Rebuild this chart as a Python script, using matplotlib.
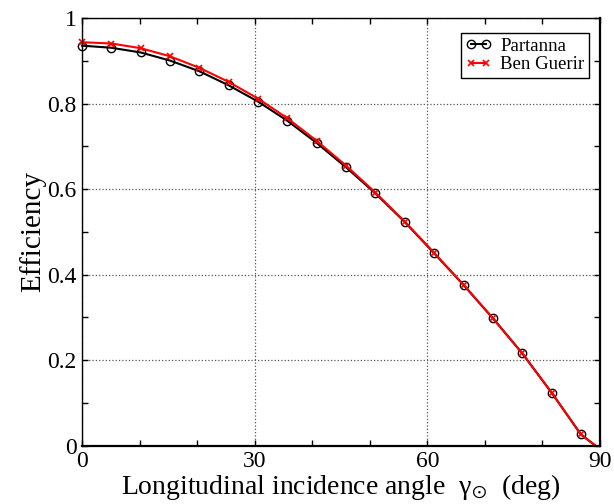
import matplotlib
matplotlib.use("Agg")
import matplotlib.pyplot as plt
from matplotlib.ticker import MultipleLocator, FixedFormatter, FixedLocator

# Data (angle in deg, efficiency)
angles = [0, 5.1, 10.2, 15.3, 20.4, 25.5, 30.6, 35.7, 40.8, 45.9,
          51.0, 56.1, 61.2, 66.3, 71.4, 76.5, 81.6, 86.7, 89.2]
partanna = [0.936, 0.931, 0.920, 0.901, 0.876, 0.843, 0.805, 0.760, 0.708, 0.651,
            0.590, 0.523, 0.450, 0.376, 0.298, 0.216, 0.124, 0.026, 0.0]
ben_guerir = [0.944, 0.941, 0.930, 0.911, 0.884, 0.851, 0.812, 0.766, 0.713, 0.655,
              0.592, 0.524, 0.451, 0.376, 0.298, 0.216, 0.124, 0.026, 0.0]

x_ticks = [0, 30, 60, 90]
x_labels = ["0", "30", "60", "90"]
y_ticks = [0, 0.2, 0.4, 0.6, 0.8, 1.0]
y_labels = ["0", "0.2", "0.4", "0.6", "0.8", "1"]

plt.rcParams["font.family"] = ["Liberation Serif", "DejaVu Serif"]
plt.rcParams["mathtext.fontset"] = "stix"

fig = plt.figure(figsize=(6.14, 5.04), dpi=100)
ax = fig.add_axes([0.1336, 0.116, 0.977 - 0.1336, 0.9637 - 0.116])

n_mark = len(angles) - 1
ax.plot(angles, partanna, color="black", lw=1.5, marker="o", markersize=6,
        markerfacecolor="none", markeredgewidth=1.0, markevery=slice(0, n_mark),
        label="Partanna", clip_on=False)
ax.plot(angles, ben_guerir, color="red", lw=1.5, marker="x", markersize=5,
        markeredgewidth=1.2, markevery=slice(0, n_mark), label="Ben Guerir",
        clip_on=False)

ax.set_xlim(0, 90)
ax.set_ylim(0, 1)
ax.xaxis.set_major_locator(FixedLocator(x_ticks))
ax.xaxis.set_major_formatter(FixedFormatter(x_labels))
ax.yaxis.set_major_locator(FixedLocator(y_ticks))
ax.yaxis.set_major_formatter(FixedFormatter(y_labels))
ax.xaxis.set_minor_locator(MultipleLocator(10))
ax.yaxis.set_minor_locator(MultipleLocator(0.1))
ax.tick_params(which="both", direction="in", top=True, right=True,
               length=4.5, width=1.0, labelsize=17)
ax.tick_params(axis="x", pad=4)
ax.tick_params(axis="y", pad=4)

ax.grid(True, which="major", linestyle=":", color="#555555", lw=0.9)

for side in ["left", "top"]:
    ax.spines[side].set_linewidth(1.0)
for side in ["right", "bottom"]:
    ax.spines[side].set_linewidth(1.6)

ax.set_xlabel("Longitudinal incidence angle  γ$_{\\odot}$  (deg)", fontsize=20, labelpad=0)
ax.set_ylabel("Efficiency", fontsize=21, labelpad=1)

leg = ax.legend(loc="upper right", bbox_to_anchor=(0.979, 0.965), fontsize=13.5,
                numpoints=2, fancybox=False, framealpha=1, edgecolor="black",
                borderpad=0.25, labelspacing=0.05, handlelength=1.4,
                handletextpad=0.45, borderaxespad=0)
leg.get_frame().set_linewidth(1.0)

fig.savefig("out.png", dpi=100)
